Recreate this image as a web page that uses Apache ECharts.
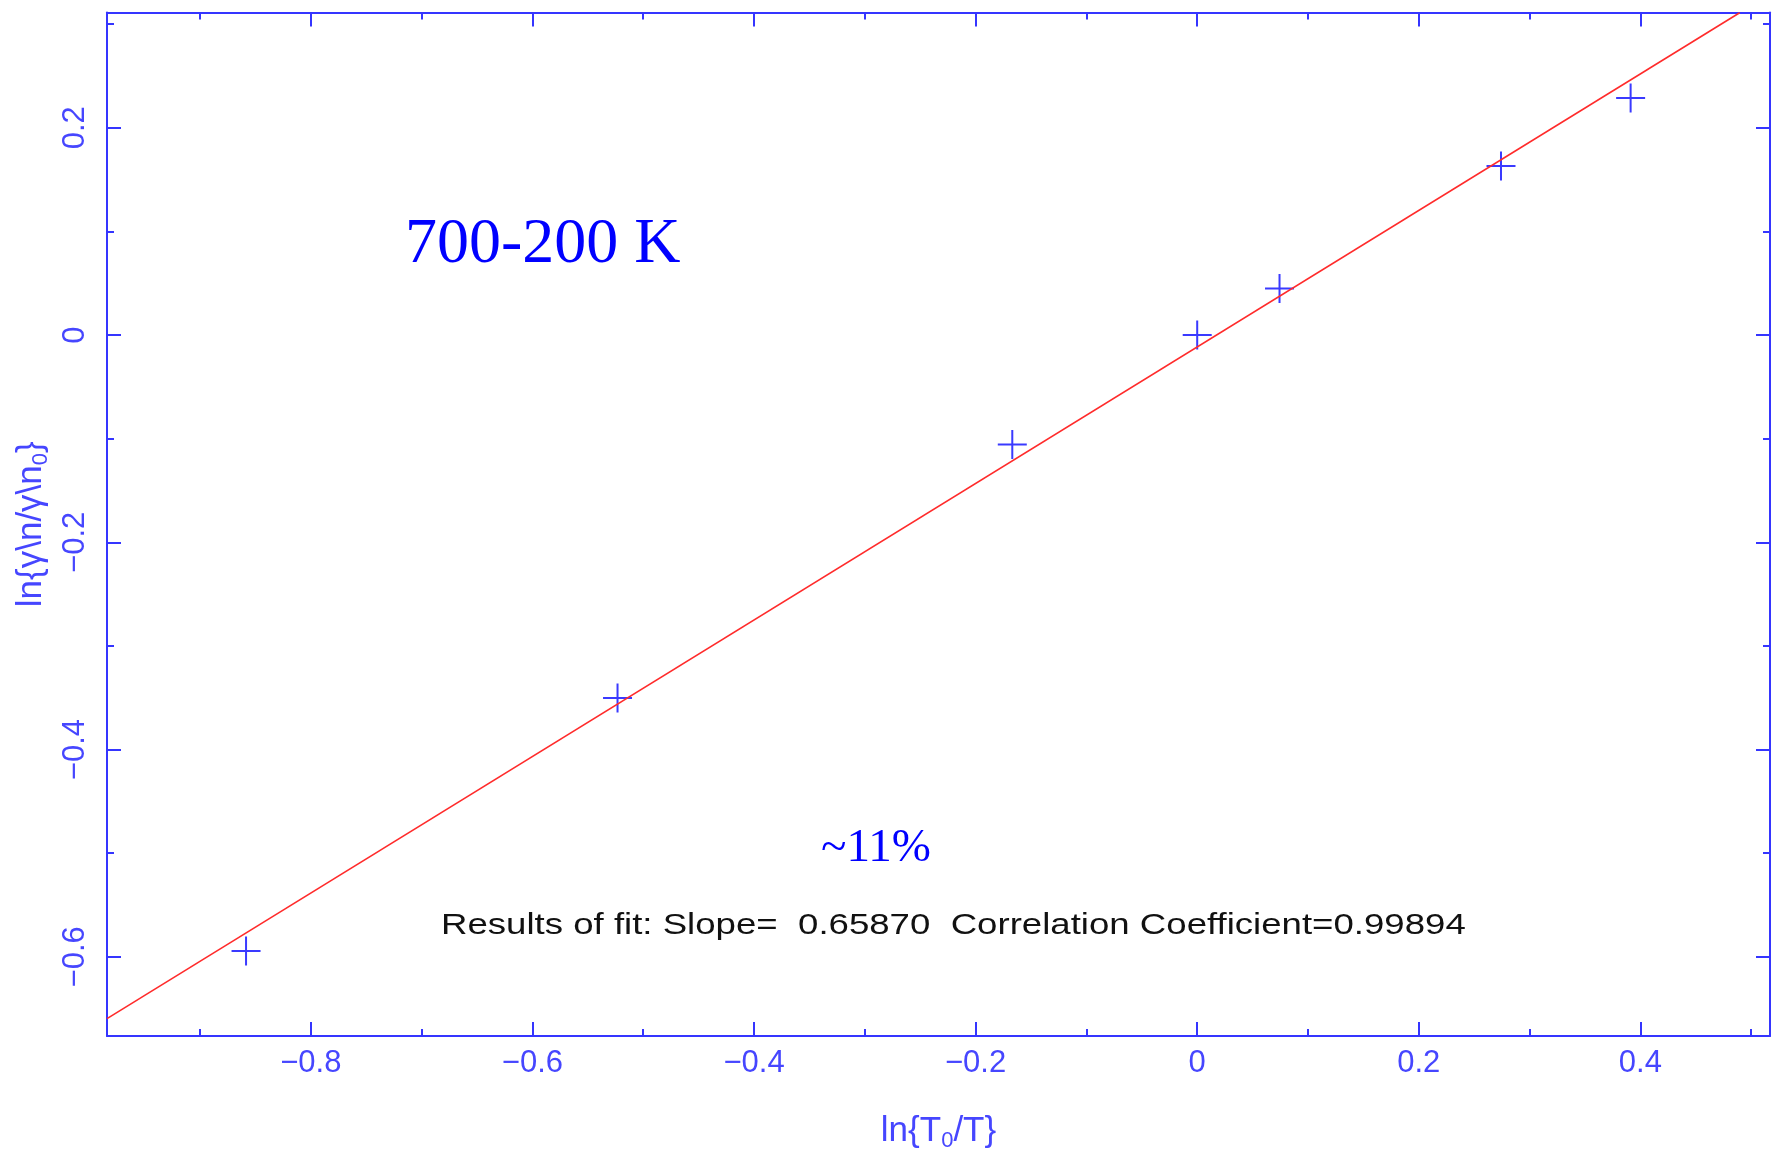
<!DOCTYPE html>
<html>
<head>
<meta charset="utf-8">
<script src="https://cdn.jsdelivr.net/npm/echarts@6/dist/echarts.min.js"></script>
<style>
  html, body { margin: 0; padding: 0; background: #fff; }
  #chart { width: 1781px; height: 1164px; }
</style>
</head>
<body>
<div id="chart"></div>
<script>
// measured points ln{T0/T} vs ln{...}
const xVals = [-0.8585, -0.5232, -0.1669, 0.0, 0.0743, 0.2742, 0.3912];
const yVals = [-0.5944, -0.3502, -0.1056, 0.0, 0.045, 0.163, 0.2287];
// fit line end points (red)
const fitX = [-0.984, 0.4896];
const fitY = [-0.6597, 0.311];
// ticks
const xMajor = [-0.8, -0.6, -0.4, -0.2, 0, 0.2, 0.4];
const xMinor = [-0.9, -0.7, -0.5, -0.3, -0.1, 0.1, 0.3, 0.5];
const yMajor = [-0.6, -0.4, -0.2, 0, 0.2];
const yMinor = [-0.5, -0.3, -0.1, 0.1, 0.3];
const xRange = [-0.984, 0.517];
const yRange = [-0.6764, 0.3112];

const AXIS = "#3535ff";
const LABEL = "#4646ff";
const FONT = "'Liberation Sans Narrow', 'Liberation Sans', sans-serif";

function fmt(v) {
  if (v === 0) return "0";
  return v < 0 ? "\u2212" + Math.abs(v) : String(v);
}

// one axis per side and tick kind (major with labels / minor)
function xAx(pos, ticks, len, labels) {
  return {
    type: "value", position: pos, min: xRange[0], max: xRange[1],
    axisLine: { show: len === 14, onZero: false, lineStyle: { color: AXIS, width: 2 } },
    axisTick: { show: true, inside: true, length: len, customValues: ticks,
      lineStyle: { color: AXIS, width: 2 } },
    axisLabel: labels ? { show: true, customValues: ticks, formatter: fmt,
      color: LABEL, fontFamily: FONT, fontSize: 31, margin: 12 } : { show: false },
    splitLine: { show: false }
  };
}
function yAx(pos, ticks, len, labels) {
  return {
    type: "value", position: pos, min: yRange[0], max: yRange[1],
    axisLine: { show: len === 14, onZero: false, lineStyle: { color: AXIS, width: 2 } },
    axisTick: { show: true, inside: true, length: len, customValues: ticks,
      lineStyle: { color: AXIS, width: 2 } },
    axisLabel: labels ? { show: true, customValues: ticks, formatter: fmt, rotate: 90,
      color: LABEL, fontFamily: FONT, fontSize: 31, margin: 16 } : { show: false },
    splitLine: { show: false }
  };
}

const chart = echarts.init(document.getElementById("chart"));

const xMain = xAx("bottom", xMajor, 14, true);
xMain.name = "ln{T{sub|0}/T}";
xMain.nameLocation = "middle";
xMain.nameGap = 74;
xMain.nameTextStyle = { color: LABEL, fontFamily: FONT, fontSize: 35,
  rich: { sub: { color: LABEL, fontFamily: FONT, fontSize: 22, padding: [20, 0, 0, 0] } } };

const yMain = yAx("left", yMajor, 14, true);
yMain.name = "ln{\u03b3\\n/\u03b3\\n{sub|0}}";
yMain.nameLocation = "middle";
yMain.nameRotate = 90;
yMain.nameGap = 54;
yMain.nameTextStyle = { color: LABEL, fontFamily: FONT, fontSize: 35,
  rich: { sub: { color: LABEL, fontFamily: FONT, fontSize: 22, padding: [20, 0, 0, 0] } } };

chart.setOption({
  animation: false,
  backgroundColor: "#fff",
  grid: { left: 107, top: 12.5, right: 11, bottom: 128 },
  xAxis: [
    xMain,
    xAx("bottom", xMinor, 7, false),
    xAx("top", xMajor, 14, false),
    xAx("top", xMinor, 7, false)
  ],
  yAxis: [
    yMain,
    yAx("left", yMinor, 7, false),
    yAx("right", yMajor, 14, false),
    yAx("right", yMinor, 7, false)
  ],
  graphic: [
    { type: "text", x: 405, y: 245, style: { text: "700-200 K", fill: "#0000ff",
      font: "64px 'Liberation Serif', serif", verticalAlign: "middle" } },
    { type: "text", x: 876, y: 849, style: { text: "~11%", fill: "#0000ff",
      font: "47px 'Liberation Serif', serif", align: "center", verticalAlign: "middle" } },
    { type: "text", x: 441, y: 926, scaleX: 1.22, style: {
      text: "Results of fit: Slope=  0.65870  Correlation Coefficient=0.99894",
      fill: "#111", font: "30px " + FONT, verticalAlign: "middle" } }
  ],
  series: [
    {
      type: "line",
      xAxisIndex: 0, yAxisIndex: 0,
      data: fitX.map((x, i) => [x, fitY[i]]),
      symbol: "none",
      lineStyle: { color: "#ff2b2b", width: 1.6 },
      silent: true
    },
    {
      type: "scatter",
      xAxisIndex: 0, yAxisIndex: 0,
      data: xVals.map((x, i) => [x, yVals[i]]),
      symbol: "path://M15,0L15,30M0,15L30,15",
      symbolSize: 29,
      itemStyle: { color: "transparent", borderColor: "#3a3aff", borderWidth: 2, opacity: 1 }
    }
  ]
});
</script>
</body>
</html>
